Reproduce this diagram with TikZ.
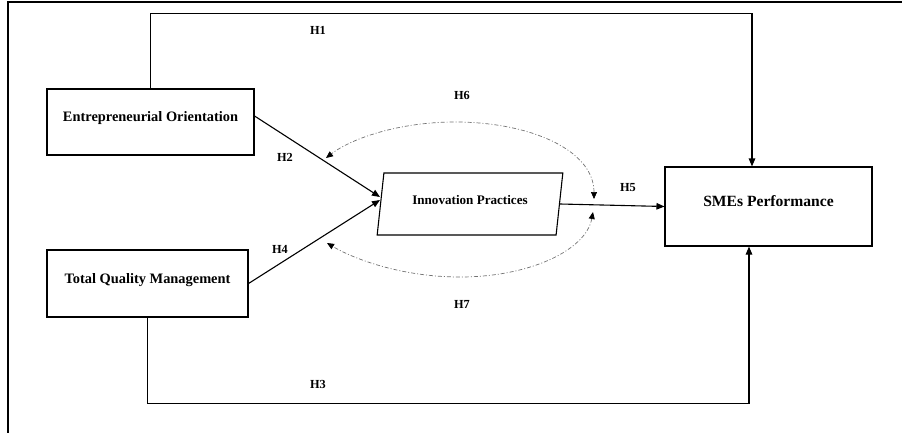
\documentclass[tikz,border=0pt]{standalone}
\usepackage{fontspec}
\setmainfont{Liberation Serif}
\usetikzlibrary{shapes.geometric,arrows.meta}
\begin{document}
\begin{tikzpicture}[x=1pt,y=-1pt,
  box/.style={draw,line width=1.1pt,inner sep=0pt,align=center,text depth=10pt},
  arr/.style={line width=1.1pt,-{Triangle[length=8pt,width=6.5pt]}},
  dd/.style={draw=black!55,line width=0.7pt,dash pattern=on 4pt off 2pt on 1pt off 2pt,
     {Triangle[length=7pt,width=6pt,color=black]}-{Triangle[length=7pt,width=6pt,color=black]}},
  hl/.style={font=\fontsize{12.3}{14}\selectfont\bfseries},
  frame/.style={line width=2pt}]
\useasboundingbox (0,0) rectangle (902,433);
\draw[frame] (8,433) -- (8,2) -- (902,2);

\node[box,minimum width=207pt,minimum height=66pt,font=\fontsize{14.4}{17}\selectfont\bfseries] (eo) at (150.5,122) {Entrepreneurial Orientation};
\node[box,minimum width=201pt,minimum height=67pt,font=\fontsize{14.4}{17}\selectfont\bfseries] (tqm) at (147.5,283.5) {Total Quality Management};
\node[box,minimum width=207pt,minimum height=79pt,font=\fontsize{15.6}{18}\selectfont\bfseries] (sme) at (768.5,206.5) {SMEs Performance};
\node[draw,line width=1.1pt,trapezium,trapezium left angle=76,trapezium right angle=104,
      trapezium stretches=true,minimum width=186pt,minimum height=62pt,inner sep=0pt,
      text depth=9pt,font=\fontsize{13.1}{15}\selectfont\bfseries] (ip) at (470,204) {Innovation Practices};

% H1
\draw[arr] (eo.north) -- ++(0,-75) -| ([xshift=-16.5pt]sme.north);
% H3
\draw[arr] (tqm.south) -- ++(0,86) -| ([xshift=-19.5pt]sme.south);
% H2, H4
\draw[arr] ([yshift=6pt]eo.east) -- ([yshift=7pt]ip.west);
\draw[arr] (tqm.east) -- ([yshift=4pt]ip.west);
% H5
\draw[arr] (ip.east) -- (sme.west);

% H6 / H7 dash-dot arcs
\coordinate (t1) at (594,199);
\coordinate (t2) at (326,158);
\coordinate (b1) at (593,212);
\coordinate (b2) at (327,243);
\draw[dd] (t1) .. controls (594,150) and (530,122) .. (455,122) .. controls (400,122) and (352,138) .. (t2);
\draw[dd] (b1) .. controls (586,250) and (530,277) .. (460,277) .. controls (400,277) and (352,258) .. (b2);

\node[hl] (h1) at (318,30) {H1};
\node[hl] (h2) at (285,157) {H2};
\node[hl] (h4) at (280,249) {H4};
\node[hl] (h6) at (462,95) {H6};
\node[hl] (h5) at (628,188) {H5};
\node[hl] (h3) at (318,384) {H3};
\node[hl] (h7) at (462,304) {H7};
\end{tikzpicture}
\end{document}
